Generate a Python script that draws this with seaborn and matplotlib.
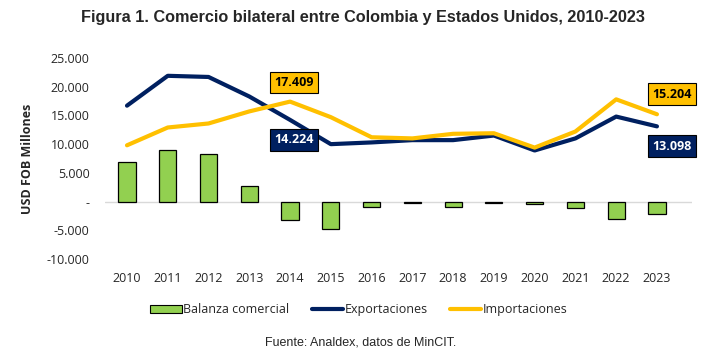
import matplotlib
matplotlib.use("Agg")
import matplotlib.pyplot as plt
import numpy as np
import pandas as pd
import seaborn as sns
from matplotlib.lines import Line2D
from matplotlib.patches import Patch
from matplotlib.ticker import FuncFormatter

years = [str(y) for y in range(2010, 2024)]
# USD FOB, miles de millones
exportaciones = [16.7, 21.9, 21.7, 18.3, 14.224, 10.0, 10.3, 10.7, 10.7, 11.5, 8.9, 11.0, 14.8, 13.098]
importaciones = [9.8, 12.9, 13.6, 15.7, 17.409, 14.7, 11.2, 11.0, 11.8, 11.9, 9.4, 12.2, 17.8, 15.204]
balanza = [6.9, 9.0, 8.2, 2.7, -3.185, -4.7, -0.9, -0.3, -1.0, -0.3, -0.4, -1.2, -3.0, -2.106]

GREEN = "#92D050"
NAVY = "#002060"
GOLD = "#FFC000"

sns.set_theme(style="white")
plt.rcParams["font.family"] = ["Open Sans", "DejaVu Sans"]


def fmt_thousands(value, position):
    if abs(value) < 1e-9:
        return "-"
    return f"{value:,.0f}".replace(",", ".")


df = pd.DataFrame({
    "year": years,
    "exp": np.array(exportaciones) * 1000,
    "imp": np.array(importaciones) * 1000,
    "bal": np.array(balanza) * 1000,
})
df["x"] = np.arange(len(df))

fig = plt.figure(figsize=(7.25, 3.55), dpi=100)
ax = fig.add_axes([0.1448, 0.2704, 0.8097, 0.5662])

ax.bar(df["x"], df["bal"], width=0.42, color=GREEN, edgecolor="black", linewidth=0.9, zorder=2)
sns.lineplot(data=df, x="x", y="exp", color=NAVY, linewidth=3, ax=ax, zorder=3)
sns.lineplot(data=df, x="x", y="imp", color=GOLD, linewidth=3, ax=ax, zorder=3)
ax.axhline(0, color="#D9D9D9", linewidth=1, zorder=1)

ax.set_xlim(-0.54, 13.86)
ax.set_ylim(-10000, 25000)
ax.set_yticks(range(-10000, 25001, 5000))
ax.yaxis.set_major_formatter(FuncFormatter(fmt_thousands))
ax.set_xticks(df["x"])
ax.set_xticklabels(years)
ax.tick_params(axis="both", length=0, labelsize=9, colors="#262626")
ax.tick_params(axis="y", pad=11)
ax.tick_params(axis="x", pad=9)
for s in ax.spines.values():
    s.set_visible(False)
ax.set_xlabel("")
ax.set_ylabel("USD FOB Millones", fontsize=9, fontweight="bold", labelpad=9)


def tag(i, value, dx, dy, fc, tc):
    ax.annotate(f"{value:.3f}", xy=(i, value * 1000), xytext=(dx, dy), textcoords="offset pixels",
                ha="center", va="center", fontsize=9, fontweight="bold", color=tc,
                bbox=dict(boxstyle="square,pad=0.35", fc=fc, ec="black", lw=0.8), zorder=5)


tag(4, importaciones[4], 4, 19, GOLD, "black")
tag(4, exportaciones[4], 4, -20, NAVY, "white")
tag(13, importaciones[13], 15, 20, GOLD, "black")
tag(13, exportaciones[13], 15, -20, NAVY, "white")

fig.text(0.5, 0.95, "Figura 1. Comercio bilateral entre Colombia y Estados Unidos, 2010-2023",
         ha="center", va="center", fontsize=11.7, fontweight="bold", family="Liberation Sans")

handles = [
    Patch(facecolor=GREEN, edgecolor="black", linewidth=0.8, label="Balanza comercial"),
    Line2D([0], [0], color=NAVY, lw=3, label="Exportaciones"),
    Line2D([0], [0], color=GOLD, lw=3, label="Importaciones"),
]
fig.legend(handles=handles, loc="center", bbox_to_anchor=(0.495, 0.127), ncol=3, frameon=False,
           prop={"family": "Open Sans", "size": 9}, handlelength=2.5, handleheight=0.55,
           handletextpad=0.12, columnspacing=1.8)

fig.text(0.497, 0.035, "Fuente: Analdex, datos de MinCIT.", ha="center", va="center",
         fontsize=9, family="Liberation Sans")

fig.savefig("out.png", dpi=100)
